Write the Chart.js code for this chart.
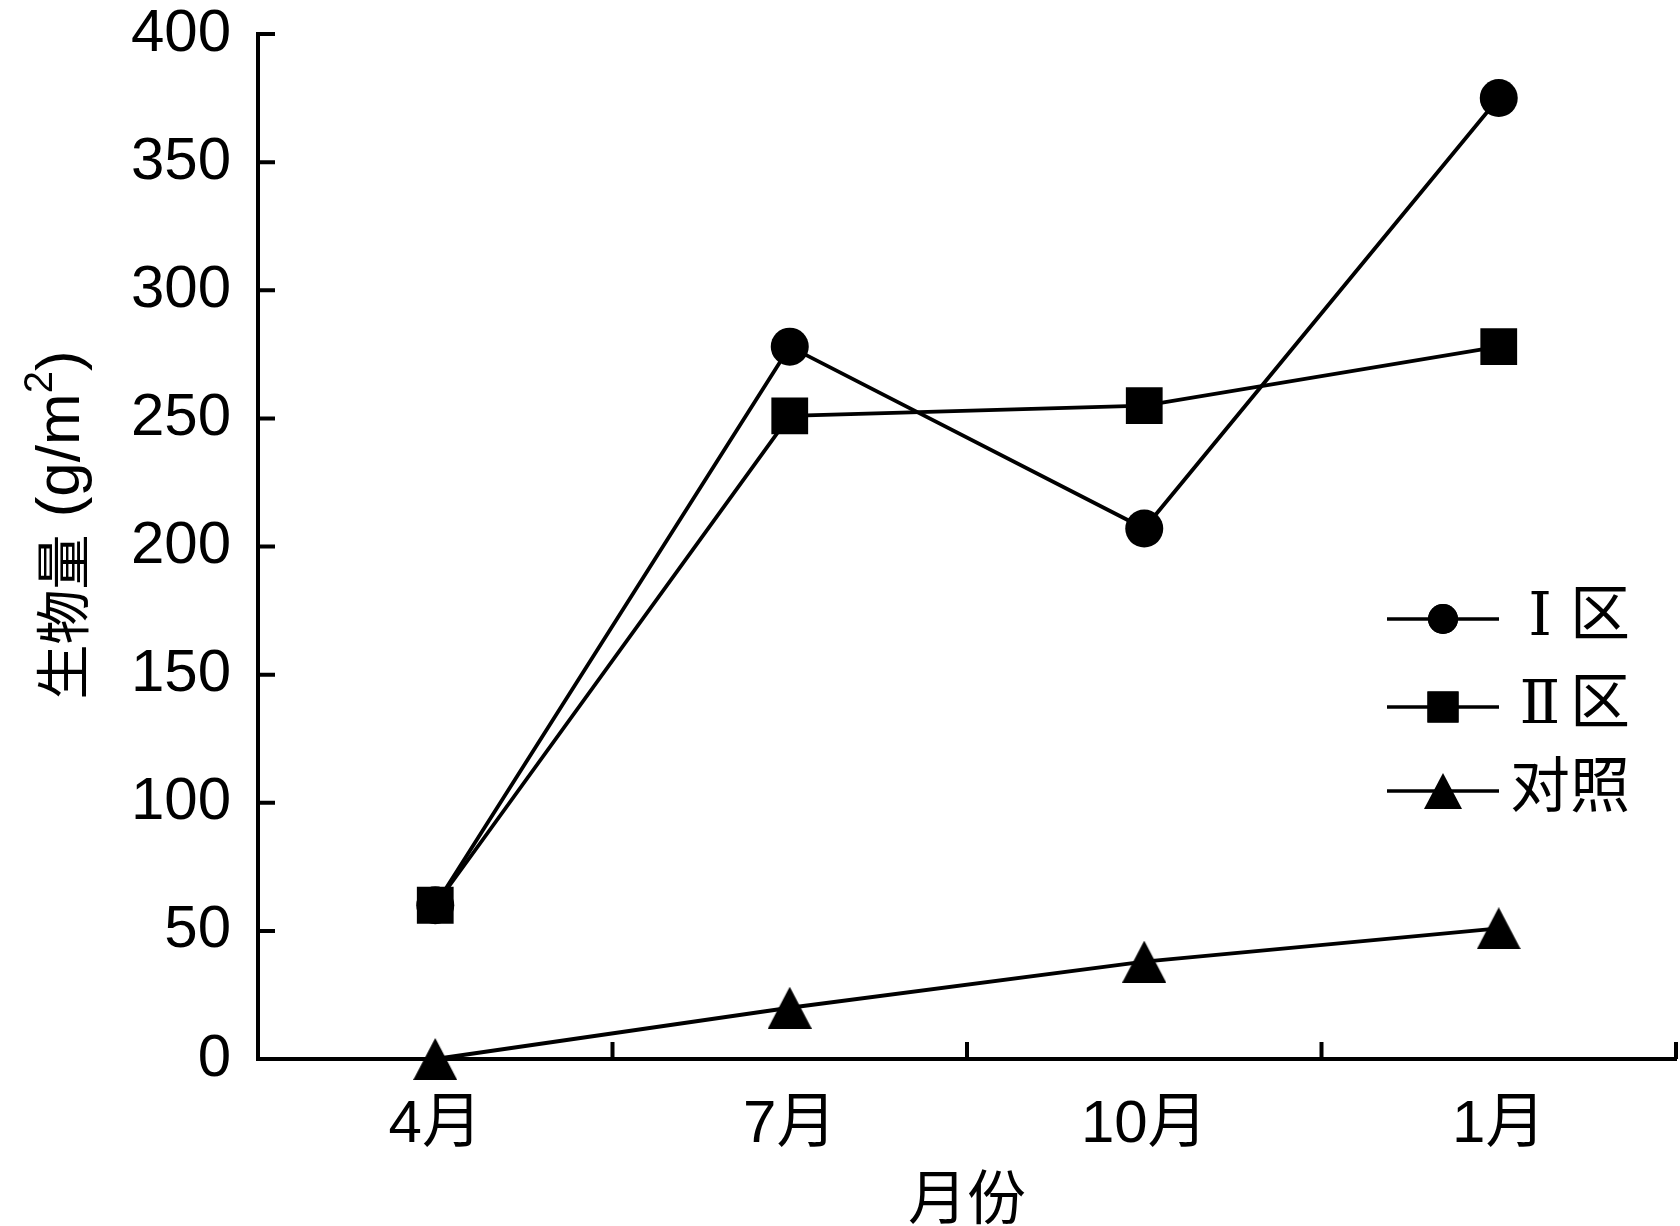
<!DOCTYPE html>
<html>
<head>
<meta charset="utf-8">
<script src="https://cdn.jsdelivr.net/npm/chart.js@4.4.1/dist/chart.umd.min.js"></script>
<style>
  html, body { margin: 0; padding: 0; background: #fff; }
  #wrap { width: 1680px; height: 1226px; }
</style>
</head>
<body>
<div id="wrap"><canvas id="bioChart" width="1680" height="1226"></canvas></div>
<script>
const months = ["4月", "7月", "10月", "1月"];
const zoneOne = [60, 278, 207, 375];
const zoneTwo = [60, 251, 255, 278];
const control = [0, 20, 38, 51];
const yTickValues = [0, 50, 100, 150, 200, 250, 300, 350, 400];
const seriesNames = ["Ⅰ区", "Ⅱ区", "对照"];

const latin = "'Liberation Sans', Arial, 'Noto Sans CJK SC', sans-serif";
const cjk = "'Noto Sans CJK SC', 'Liberation Sans', sans-serif";
const legendFont = "'DejaVu Serif', 'Noto Sans CJK SC', serif";

// triangle centred on its bounding box (chart.js centres on the centroid)
function makeTriangle(w, h) {
  const c = document.createElement("canvas");
  c.width = w;
  c.height = h;
  const g = c.getContext("2d");
  g.fillStyle = "#000";
  g.beginPath();
  g.moveTo(w / 2, 0);
  g.lineTo(w, h);
  g.lineTo(0, h);
  g.closePath();
  g.fill();
  return c;
}
const plotTriangle = makeTriangle(44, 42);
const legendTriangle = makeTriangle(38, 36);

// inward tick marks on both axes
const innerTicks = {
  id: "innerTicks",
  afterDraw(chart) {
    const { ctx, chartArea, scales } = chart;
    ctx.save();
    ctx.strokeStyle = "#000";
    ctx.lineWidth = 4;
    ctx.beginPath();
    scales.y.ticks.forEach((t) => {
      if (t.value === 0) return;
      const py = scales.y.getPixelForValue(t.value);
      ctx.moveTo(chartArea.left, py);
      ctx.lineTo(chartArea.left + 17, py);
    });
    for (let i = 0; i < months.length; i++) {
      const px = scales.x.getPixelForValue(i + 0.5);
      ctx.moveTo(px, chartArea.bottom);
      ctx.lineTo(px, chartArea.bottom - 17);
    }
    ctx.stroke();
    ctx.restore();
  }
};

// y title with mixed fonts: chinese part, unit part and a raised "2"
const yTitle = {
  id: "yTitle",
  afterDraw(chart) {
    const ctx = chart.ctx;
    const parts = [
      { t: "生物量", f: "55px " + cjk, dy: 0 },
      { t: " (g/m", f: "62px " + latin, dy: 0 },
      { t: "2", f: "40px " + latin, dy: -21 },
      { t: ")", f: "62px " + latin, dy: 0 }
    ];
    ctx.save();
    let total = 0;
    parts.forEach((p) => { ctx.font = p.f; p.w = ctx.measureText(p.t).width; total += p.w; });
    ctx.translate(62, 525);
    ctx.rotate(-Math.PI / 2);
    ctx.fillStyle = "#000";
    ctx.textAlign = "left";
    ctx.textBaseline = "middle";
    let x = -total / 2;
    parts.forEach((p) => {
      ctx.font = p.f;
      ctx.fillText(p.t, x, p.dy);
      x += p.w;
    });
    ctx.restore();
  }
};

// legend drawn as line - marker - line, then label (one em cell per character)
const lineLegend = {
  id: "lineLegend",
  afterDraw(chart) {
    const ctx = chart.ctx;
    const rows = [619, 707, 791];
    const x0 = 1387, x1 = 1499, xm = 1443, xt = 1510, em = 60;
    ctx.save();
    chart.data.datasets.forEach((ds, i) => {
      const y = rows[i];
      ctx.strokeStyle = "#000";
      ctx.lineWidth = 3.5;
      ctx.beginPath();
      ctx.moveTo(x0, y);
      ctx.lineTo(x1, y);
      ctx.stroke();
      const style = ds.pointStyle === plotTriangle ? legendTriangle : ds.pointStyle;
      const r = ds.pointStyle === "circle" ? 15 : 22;
      Chart.helpers.drawPoint(ctx, { pointStyle: style, radius: r, borderWidth: 0, rotation: 0 }, xm, y);
      ctx.fillStyle = "#000";
      ctx.fill();
      ctx.font = em + "px " + legendFont;
      ctx.textAlign = "center";
      ctx.textBaseline = "middle";
      Array.from(ds.label).forEach((ch, k) => {
        ctx.fillText(ch, xt + em / 2 + k * em, y);
      });
    });
    ctx.restore();
  }
};

const common = {
  borderColor: "#000",
  backgroundColor: "#000",
  pointBackgroundColor: "#000",
  pointBorderWidth: 0,
  borderWidth: 3.8,
  tension: 0,
  clip: false
};

new Chart(document.getElementById("bioChart").getContext("2d"), {
  type: "line",
  data: {
    labels: months,
    datasets: [
      { ...common, label: seriesNames[0], data: zoneOne, pointStyle: "circle", pointRadius: 19, order: 1 },
      { ...common, label: seriesNames[1], data: zoneTwo, pointStyle: "rect", pointRadius: 26, order: 0 },
      { ...common, label: seriesNames[2], data: control, pointStyle: plotTriangle, pointRadius: 22, order: 2 }
    ]
  },
  options: {
    responsive: false,
    devicePixelRatio: 1,
    animation: false,
    layout: { autoPadding: false, padding: { top: 34, right: 4, left: 0, bottom: 0 } },
    plugins: {
      legend: { display: false },
      tooltip: { enabled: false }
    },
    scales: {
      x: {
        offset: true,
        grid: { display: false, drawTicks: false },
        border: { display: true, color: "#000", width: 4 },
        ticks: {
          color: "#000",
          padding: 36,
          font: { family: "'Liberation Sans Narrow', " + latin, size: 60, lineHeight: 1 }
        },
        title: {
          display: true,
          text: "月份",
          color: "#000",
          padding: { top: 0, bottom: 0 },
          font: { family: cjk, size: 59, lineHeight: 1 }
        },
        afterFit: (s) => { s.height = 167; s.paddingLeft = 0; s.paddingRight = 0; }
      },
      y: {
        min: 0,
        max: 400,
        grid: { display: false, drawTicks: false },
        border: { display: true, color: "#000", width: 4 },
        afterBuildTicks: (s) => { s.ticks = yTickValues.map((v) => ({ value: v })); },
        ticks: {
          color: "#000",
          padding: 27,
          font: { family: latin, size: 60, lineHeight: 1 }
        },
        title: { display: false },
        afterFit: (s) => { s.width = 258; s.paddingTop = 0; s.paddingBottom = 0; }
      }
    }
  },
  plugins: [innerTicks, yTitle, lineLegend]
});
</script>
</body>
</html>
